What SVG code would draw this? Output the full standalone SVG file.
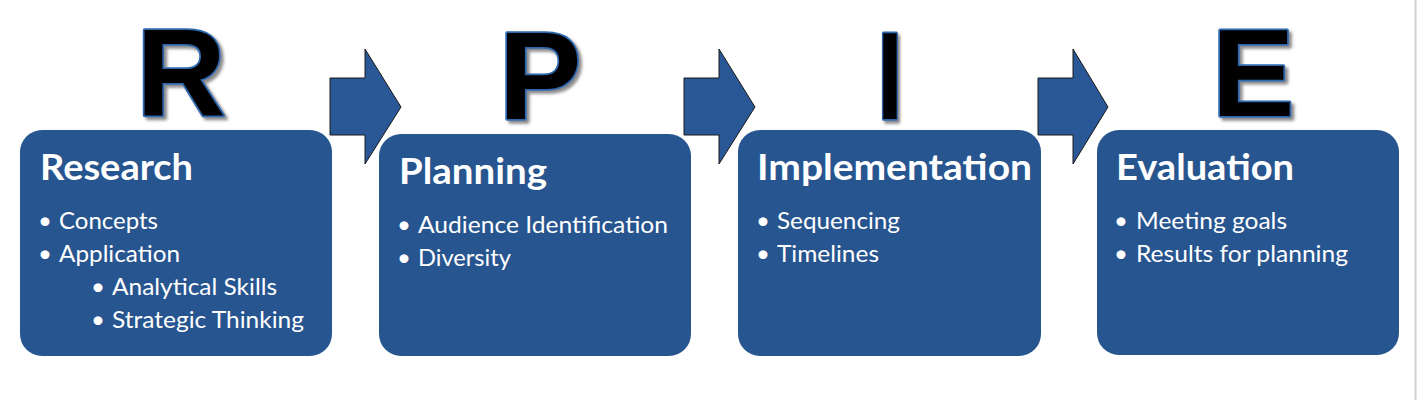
<svg xmlns="http://www.w3.org/2000/svg" width="1418" height="400" viewBox="0 0 1418 400">
<defs>
<filter id="shadow" x="-20%" y="-20%" width="150%" height="150%">
<feDropShadow dx="3" dy="3" stdDeviation="1.6" flood-color="#505050" flood-opacity="0.65"/>
</filter>
<style>
.box{fill:#27558f;}
.arrow{fill:#2a5795;stroke:#1a1a1a;stroke-width:1;}
.big{font-family:"Liberation Sans",Arial,sans-serif;font-weight:bold;font-size:124px;fill:#000;stroke:#2f67ad;stroke-width:3.5;paint-order:stroke;stroke-linejoin:round;text-anchor:middle;filter:url(#shadow);}
.title{font-family:Lato,"Open Sans",sans-serif;font-weight:bold;font-size:36px;fill:#fff;}
.item{font-family:Lato,"Open Sans",sans-serif;font-size:24px;fill:#fff;}
.bul{font-family:Lato,"Open Sans",sans-serif;font-size:24px;fill:#fff;text-anchor:middle;}
</style>
</defs>
<rect width="1418" height="400" fill="#fff"/>
<line x1="1415.5" y1="0" x2="1415.5" y2="400" stroke="#d2d2d2" stroke-width="2"/>

<g id="connectors">
<polygon class="arrow" points="330,78 365,78 365,49 401,107 365,164 365,135 330,135"/>
<polygon class="arrow" points="684,78 719,78 719,49 755,107 719,164 719,135 684,135"/>
<polygon class="arrow" points="1038,78 1073,78 1073,49 1108,107 1073,164 1073,135 1038,135"/>
</g>

<g id="research">
<text class="big" x="181" y="116">R</text>
<rect class="box" x="20" y="130" width="312" height="226" rx="22"/>
<text class="title" x="40" y="180" textLength="153" lengthAdjust="spacingAndGlyphs">Research</text>
<text class="bul" x="45" y="229">•</text>
<text class="item" x="59" y="229" textLength="99" lengthAdjust="spacingAndGlyphs">Concepts</text>
<text class="bul" x="45" y="262">•</text>
<text class="item" x="59" y="262" textLength="121" lengthAdjust="spacingAndGlyphs">Application</text>
<text class="bul" x="98" y="295">•</text>
<text class="item" x="112" y="295" textLength="165" lengthAdjust="spacingAndGlyphs">Analytical Skills</text>
<text class="bul" x="98" y="328">•</text>
<text class="item" x="112" y="328" textLength="192" lengthAdjust="spacingAndGlyphs">Strategic Thinking</text>
</g>

<g id="planning">
<text class="big" x="540" y="119">P</text>
<rect class="box" x="379" y="134" width="312" height="222" rx="22"/>
<text class="title" x="399" y="184" textLength="148" lengthAdjust="spacingAndGlyphs">Planning</text>
<text class="bul" x="404" y="233">•</text>
<text class="item" x="418" y="233" textLength="250" lengthAdjust="spacingAndGlyphs">Audience Identification</text>
<text class="bul" x="404" y="266">•</text>
<text class="item" x="418" y="266" textLength="93" lengthAdjust="spacingAndGlyphs">Diversity</text>
</g>

<g id="implementation">
<text class="big" x="0" y="119" transform="translate(890,0) scale(0.75,1)">I</text>
<rect class="box" x="738" y="130" width="303" height="226" rx="22"/>
<text class="title" x="757" y="180" textLength="275" lengthAdjust="spacingAndGlyphs">Implementation</text>
<text class="bul" x="763" y="229">•</text>
<text class="item" x="777" y="229" textLength="123" lengthAdjust="spacingAndGlyphs">Sequencing</text>
<text class="bul" x="763" y="262">•</text>
<text class="item" x="777" y="262" textLength="102" lengthAdjust="spacingAndGlyphs">Timelines</text>
</g>

<g id="evaluation">
<text class="big" x="1253" y="116">E</text>
<rect class="box" x="1097" y="130" width="302" height="225" rx="22"/>
<text class="title" x="1116" y="180" textLength="178" lengthAdjust="spacingAndGlyphs">Evaluation</text>
<text class="bul" x="1121" y="229">•</text>
<text class="item" x="1136" y="229" textLength="151" lengthAdjust="spacingAndGlyphs">Meeting goals</text>
<text class="bul" x="1121" y="262">•</text>
<text class="item" x="1136" y="262" textLength="212" lengthAdjust="spacingAndGlyphs">Results for planning</text>
</g>
</svg>
